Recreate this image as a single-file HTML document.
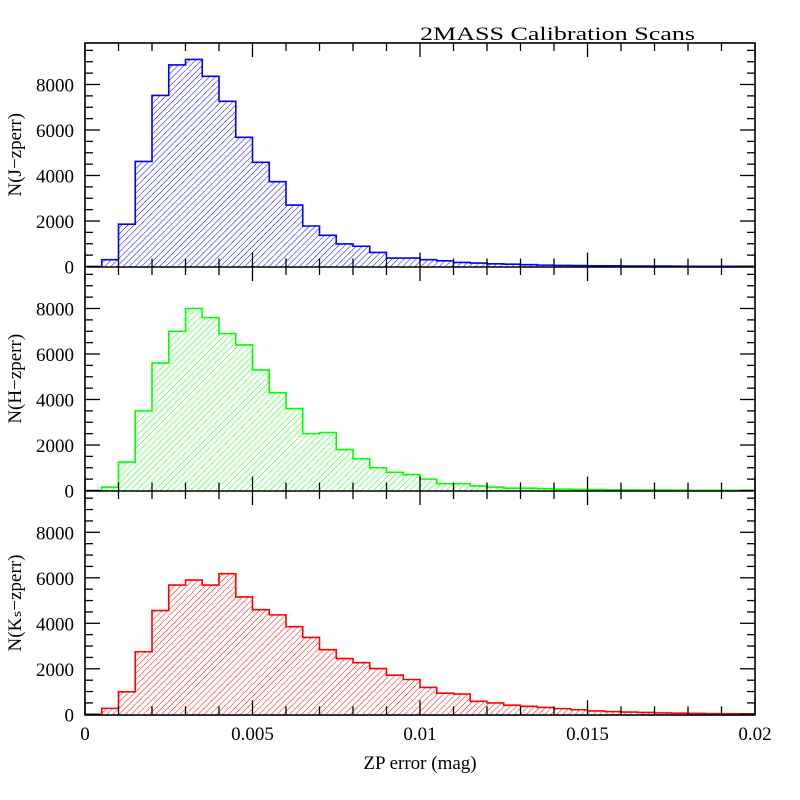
<!DOCTYPE html>
<html><head><meta charset="utf-8"><style>
html,body{margin:0;padding:0;background:#fff;}
svg{display:block;}
text{font-family:"Liberation Serif",serif;font-size:19px;fill:#000;}
</style></head><body>
<svg id="s" width="800" height="800" xmlns="http://www.w3.org/2000/svg">
<defs>
<pattern id="hb" width="4.3" height="6" patternUnits="userSpaceOnUse" patternTransform="rotate(45)"><line x1="0" y1="0" x2="0" y2="6" stroke="#0000ff" stroke-width="1"/></pattern>
<pattern id="hg" width="4.3" height="6" patternUnits="userSpaceOnUse" patternTransform="rotate(45)"><line x1="0" y1="0" x2="0" y2="6" stroke="#00ff00" stroke-width="1"/></pattern>
<pattern id="hr" width="4.3" height="6" patternUnits="userSpaceOnUse" patternTransform="rotate(45)"><line x1="0" y1="0" x2="0" y2="6" stroke="#ff0000" stroke-width="1"/></pattern>
</defs>
<text x="420" y="40" textLength="275" lengthAdjust="spacingAndGlyphs">2MASS Calibration Scans</text>
</svg>
<script>
const s=document.getElementById('s');const NS='http://www.w3.org/2000/svg';
function el(t,a,txt){const e=document.createElementNS(NS,t);for(const k in a)e.setAttribute(k,a[k]);if(txt!==undefined)e.textContent=txt;s.appendChild(e);return e;}
const X0=85,X1=755,bw=(X1-X0)/40;
const panels=[
 {top:43,bot:266.5,col:'#0000ff',pat:'hb',lab:'N(J\u2212zperr)',d:[0,300,1860,4620,7520,8860,9100,8360,7260,5680,4580,3730,2700,1780,1370,990,890,620,370,370,300,250,180,150,120,100,80,60,50,40,30,30,20,20,20,15,10,10,10,10]},
 {top:267,bot:490.5,col:'#00ff00',pat:'hg',lab:'N(H\u2212zperr)',d:[0,150,1250,3500,5600,7000,8000,7600,6900,6400,5300,4300,3600,2500,2550,1800,1400,1000,800,700,500,300,300,200,150,100,100,80,60,50,40,30,25,20,20,15,10,10,10,10]},
 {top:491,bot:714.3,col:'#ff0000',pat:'hr',lab:'N(K\u209b\u2212zperr)',d:[0,260,990,2750,4560,5680,5900,5680,6180,5160,4600,4370,3850,3380,2840,2450,2270,2010,1720,1530,1180,930,890,570,500,400,350,300,250,200,150,120,100,80,60,50,40,30,20,20]}
];
const sc=182/8000;
panels.forEach((p,pi)=>{
 let dpath='M'+X0+' '+p.bot;
 p.d.forEach((v,i)=>{const y=p.bot-v*sc;dpath+=' L'+(X0+i*bw)+' '+y+' L'+(X0+(i+1)*bw)+' '+y;});
 dpath+=' L'+X1+' '+p.bot+' Z';
 el('path',{d:dpath,fill:'url(#'+p.pat+')',stroke:'none'});
 let op='M'+X0+' '+p.bot;
 p.d.forEach((v,i)=>{const y=p.bot-v*sc;op+=' L'+(X0+i*bw)+' '+y+' L'+(X0+(i+1)*bw)+' '+y;});
 op+=' L'+X1+' '+p.bot;
 el('path',{d:op,fill:'none',stroke:p.col,'stroke-width':1.6});
 const ptop=pi==0?43:p.top, pb=pi==2?715:p.bot;
 for(let v=0;v<=10000;v+=500){const y=p.bot-v*sc;if(y<ptop+1)break;const L=(v%2000==0)?15:8;
  el('line',{x1:X0,y1:y,x2:X0+L,y2:y,stroke:'#000','stroke-width':1.3});
  el('line',{x1:X1,y1:y,x2:X1-L,y2:y,stroke:'#000','stroke-width':1.3});
  if(v%2000==0)el('text',{x:74,y:y+7,'text-anchor':'end'},String(v));}
 for(let k=0;k<=20;k++){const x=X0+k*(X1-X0)/20;const L=(k%5==0)?14:8;
  el('line',{x1:x,y1:ptop,x2:x,y2:ptop+L,stroke:'#000','stroke-width':1.3});
  el('line',{x1:x,y1:p.bot,x2:x,y2:p.bot-L,stroke:'#000','stroke-width':1.3});}
 el('text',{x:0,y:0,transform:'translate(21,'+((ptop+pb)/2)+') rotate(-90)','text-anchor':'middle'},p.lab);
});
el('rect',{x:X0,y:43,width:X1-X0,height:672,fill:'none',stroke:'#000','stroke-width':1.6});
el('line',{x1:X0,y1:267,x2:X1,y2:267,stroke:'#000','stroke-width':1.6});
el('line',{x1:X0,y1:491,x2:X1,y2:491,stroke:'#000','stroke-width':1.6});
[['0',0],['0.005',5],['0.01',10],['0.015',15],['0.02',20]].forEach(([t,k])=>{el('text',{x:X0+k*(X1-X0)/20,y:740,'text-anchor':'middle'},t);});
el('text',{x:420,y:769,'text-anchor':'middle'},'ZP error (mag)');
</script>
</body></html>
